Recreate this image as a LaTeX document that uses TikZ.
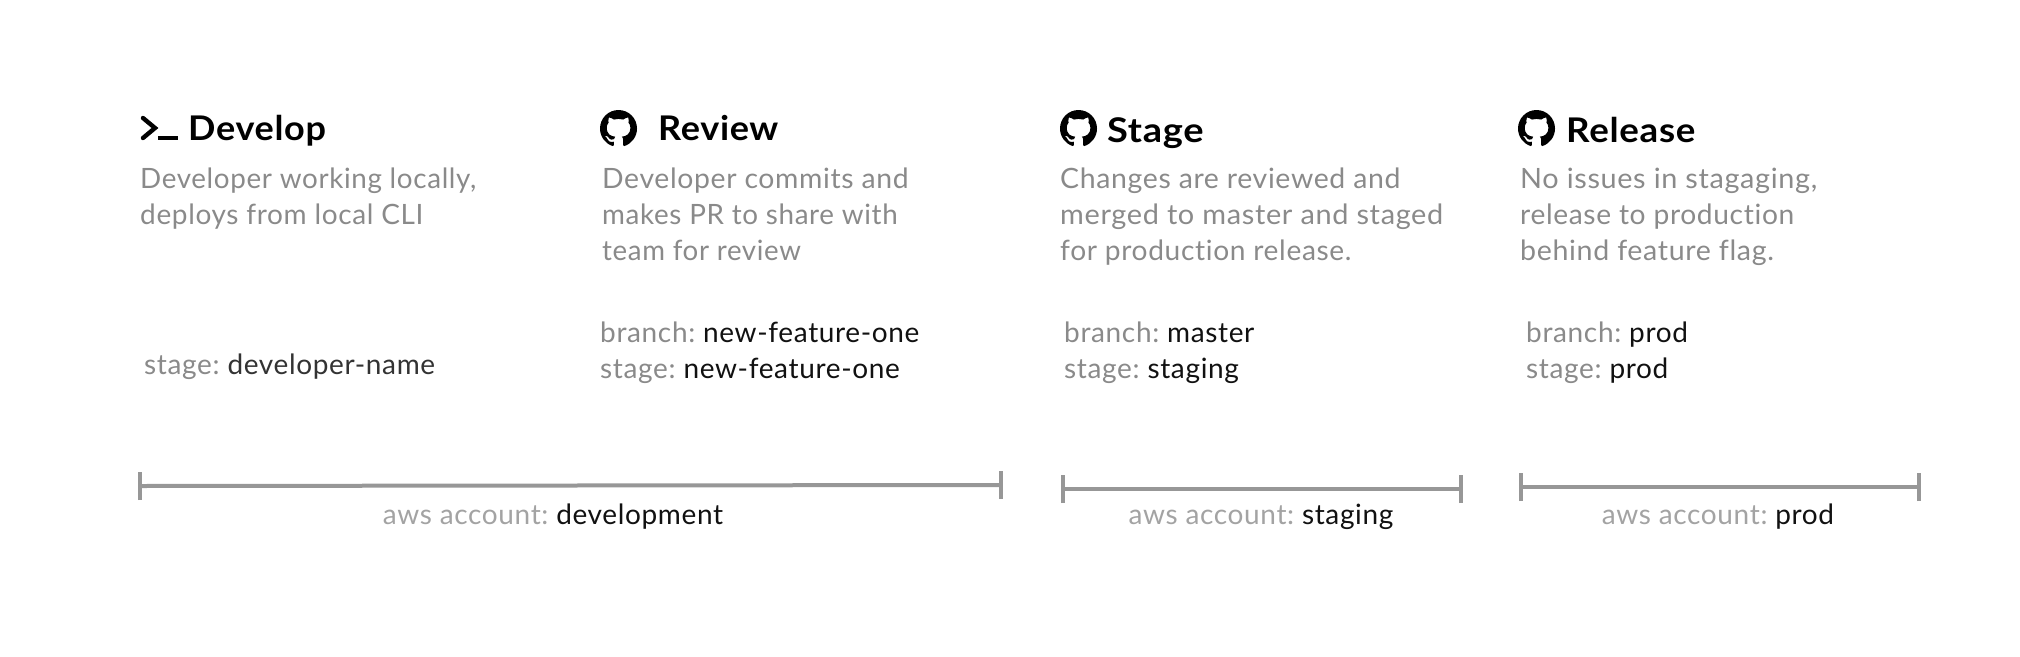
\documentclass[tikz,border=0pt]{standalone}
\usepackage{fontspec}
\setmainfont{Lato}[Ligatures=NoCommon]
\newfontfamily\headfont{Lato}[LetterSpace=2,FakeStretch=1.06,BoldFont={Lato Bold}]
\newfontfamily\bodyfont{Lato}[LetterSpace=2.3,Ligatures=NoCommon]
\usetikzlibrary{svg.path}
\definecolor{desc}{HTML}{8A8A8A}
\definecolor{awsg}{HTML}{A3A3A3}
\definecolor{bar}{HTML}{979797}
\definecolor{val}{HTML}{111111}
\tikzset{
 head/.style={anchor=base west,inner sep=0pt,font=\headfont\bfseries\fontsize{34}{34}\selectfont,text=black},
 descr/.style={anchor=base west,inner sep=0pt,font=\bodyfont\fontsize{28}{28}\selectfont,text=desc},
 keyval/.style={anchor=base west,inner sep=0pt,font=\bodyfont\fontsize{28}{28}\selectfont,text=desc},
 awslabel/.style={anchor=base,inner sep=0pt,font=\bodyfont\fontsize{28}{28}\selectfont,text=awsg},
 barline/.style={draw=bar,line width=4pt},
 ghicon/.pic={\fill[black,yscale=-1,scale=2.3125] svg {M 8 0 C 3.58 0 0 3.58 0 8 c 0 3.54 2.29 6.53 5.47 7.59 c 0.4 0.07 0.55 -0.17 0.55 -0.38 c 0 -0.19 -0.01 -0.82 -0.01 -1.49 c -2.01 0.37 -2.53 -0.49 -2.69 -0.94 c -0.09 -0.23 -0.48 -0.94 -0.82 -1.13 c -0.28 -0.15 -0.68 -0.52 -0.01 -0.53 c 0.63 -0.01 1.08 0.58 1.23 0.82 c 0.72 1.21 1.87 0.87 2.33 0.66 c 0.07 -0.52 0.28 -0.87 0.51 -1.07 c -1.78 -0.2 -3.64 -0.89 -3.64 -3.95 c 0 -0.87 0.31 -1.59 0.82 -2.15 c -0.08 -0.2 -0.36 -1.02 0.08 -2.12 c 0 0 0.67 -0.21 2.2 0.82 c 0.64 -0.18 1.32 -0.27 2 -0.27 c 0.68 0 1.36 0.09 2 0.27 c 1.53 -1.04 2.2 -0.82 2.2 -0.82 c 0.44 1.1 0.16 1.92 0.08 2.12 c 0.51 0.56 0.82 1.27 0.82 2.15 c 0 3.07 -1.87 3.75 -3.65 3.95 c 0.29 0.25 0.54 0.73 0.54 1.48 c 0 1.07 -0.01 1.93 -0.01 2.2 c 0 0.21 0.15 0.46 0.55 0.38 C 13.71 14.53 16 11.54 16 8 c 0 -4.42 -3.58 -8 -8 -8 z};}
}
\newcommand{\vv}[1]{\hspace{-2.5pt}\textcolor{val}{#1}}
\newcommand{\fs}[1]{\addfontfeature{FakeStretch=#1}}
\begin{document}
\begin{tikzpicture}[x=1pt,y=-1pt]
\useasboundingbox (0,0) rectangle (2020,656);
% headings
\draw[black,line width=4.4pt,line cap=round,line join=miter] (143,118) -- (155,128) -- (143,138);
\draw[black,line width=4.4pt] (158,138) -- (178,138);
\node[head] (h1) at (188,140) {Develop};
\pic at (600,110) {ghicon};
\node[head] (h2) at (658,140) {Review};
\pic at (1060,110) {ghicon};
\node[head] (h3) at (1107,142) {\addfontfeature{FakeStretch=1.12}Stage};
\pic at (1518,110) {ghicon};
\node[head] (h4) at (1566,142) {\addfontfeature{FakeStretch=1.08}Release};
% descriptions
\node[descr] (d11) at (140,188) {\fs{0.993}Developer working locally,};
\node[descr] (d12) at (140,224) {\fs{1.0}deploys from local CLI};
\node[descr] (d21) at (602,188) {\fs{1.013}Developer commits and};
\node[descr] (d22) at (602,224) {\fs{0.993}makes PR to share with};
\node[descr] (d23) at (602,260) {\fs{0.988}team for review};
\node[descr] (d31) at (1060,188) {\fs{1.016}Changes are reviewed and};
\node[descr] (d32) at (1060,224) {\fs{1.033}merged to master and staged};
\node[descr] (d33) at (1060,260) {\fs{1.005}for production release.};
\node[descr] (d41) at (1520,188) {\fs{1.03}No issues in stagaging,};
\node[descr] (d42) at (1520,224) {\fs{1.006}release to production};
\node[descr] (d43) at (1520,260) {\fs{1.021}behind feature flag.};
% key-values
\node[keyval] (k1) at (144,374) {stage: \hspace{-2.5pt}\textcolor[HTML]{333333}{developer-name}};
\node[keyval] (k21) at (600,342) {branch: \vv{new-feature-one}};
\node[keyval] (k22) at (600,378) {stage: \vv{new-feature-one}};
\node[keyval] (k31) at (1064,342) {branch: \vv{master}};
\node[keyval] (k32) at (1064,378) {stage: \vv{staging}};
\node[keyval] (k41) at (1526,342) {branch: \vv{prod}};
\node[keyval] (k42) at (1526,378) {stage: \vv{prod}};
% bars
\coordinate (a1) at (140,486); \coordinate (b1) at (1001,485);
\coordinate (a2) at (1063,489); \coordinate (b2) at (1461,489);
\coordinate (a3) at (1521,487); \coordinate (b3) at (1919,487);
\foreach \n in {1,2,3}{
 \draw[barline] (a\n) -- (b\n);
 \draw[barline] ([yshift=-14pt]a\n) -- ([yshift=14pt]a\n);
 \draw[barline] ([yshift=-14pt]b\n) -- ([yshift=14pt]b\n);
}
\node[awslabel] (l1) at (553,524) {aws account: \vv{development}};
\node[awslabel] (l2) at (1261,524) {aws account: \vv{staging}};
\node[awslabel] (l3) at (1718,524) {aws account: \vv{prod}};
\end{tikzpicture}
\end{document}
